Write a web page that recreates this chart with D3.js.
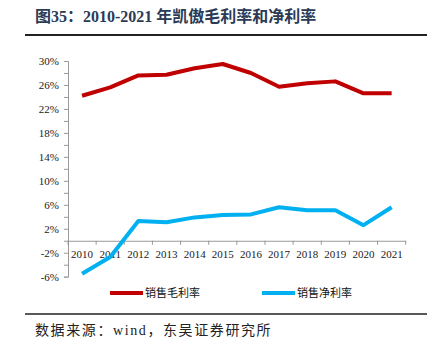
<!DOCTYPE html>
<html><head><meta charset="utf-8">
<script src="https://cdn.jsdelivr.net/npm/d3@7"></script>
<style>
html,body{margin:0;padding:0;background:#fff;}
svg{display:block;}
</style></head>
<body>
<svg id="c" width="440" height="355"></svg>
<script>
const years = ["2010","2011","2012","2013","2014","2015","2016","2017","2018","2019","2020","2021"];
const grossMargin = [24.2, 25.6, 27.6, 27.7, 28.8, 29.5, 28.0, 25.7, 26.3, 26.6, 24.6, 24.6];
const netMargin = [-5.5, -2.7, 3.3, 3.1, 3.9, 4.3, 4.4, 5.6, 5.1, 5.1, 2.6, 5.6];
const yTickValues = [-6, -2, 2, 6, 10, 14, 18, 22, 26, 30];
const seriesNames = ["销售毛利率", "销售净利率"];
const titleText = "图35：2010-2021 年凯傲毛利率和净利率";
const sourceText = "数据来源：wind，东吴证券研究所";

(function () {
const svg = d3.select("#c");
const serif = "'Liberation Serif','Times New Roman','Noto Sans CJK SC',serif";
const pLeft = 68, pRight = 405.7, pTop = 61, pBottom = 276.7;

// title
svg.append("text").attr("x", 35).attr("y", 22)
  .attr("font-family", serif).attr("font-weight", "bold").attr("font-size", 16)
  .attr("fill", "#2b3a55").text(titleText);
svg.append("line").attr("x1", 25).attr("x2", 427).attr("y1", 35).attr("y2", 35)
  .attr("stroke", "#222").attr("stroke-width", 2);

const x = d3.scaleBand().domain(years).range([pLeft, pRight]);
const y = d3.scaleLinear().domain([-6, 30]).range([pBottom, pTop]);

// y axis
const minorTicks = d3.range(-6, 30.01, 2);
const yAxis = d3.axisLeft(y).tickValues(minorTicks).tickSize(4)
  .tickFormat(d => yTickValues.includes(d) ? d + "%" : "");
const gy = svg.append("g").attr("transform", `translate(${pLeft},0)`).call(yAxis);
gy.select(".domain").attr("stroke", "#999");
gy.selectAll(".tick line").attr("stroke", "#999");
gy.selectAll(".tick text").attr("font-family", serif).attr("font-size", 11)
  .attr("fill", "#222").attr("x", -9);

// x axis at zero
const gx = svg.append("g").attr("transform", `translate(0,${y(0)})`)
  .call(d3.axisBottom(x).tickSize(0).tickPadding(9));
gx.select(".domain").attr("stroke", "#999");
gx.selectAll(".tick text").attr("font-family", serif).attr("font-size", 11).attr("fill", "#222");
const boundaries = years.map(d => x(d)).concat([x(years[years.length-1]) + x.bandwidth()]);
gx.selectAll(".bnd").data(boundaries).enter().append("line")
  .attr("x1", d => d).attr("x2", d => d).attr("y1", 0).attr("y2", 4)
  .attr("stroke", "#999");

const line = d3.line().x((d, i) => x(years[i]) + x.bandwidth() / 2).y(d => y(d));
const colors = ["#c00000", "#00b0f0"];
[grossMargin, netMargin].forEach((s, k) => {
  svg.append("path").datum(s).attr("d", line).attr("fill", "none")
    .attr("stroke", colors[k]).attr("stroke-width", 4).attr("stroke-linejoin", "round");
});

// legend
const legX = [110, 262];
seriesNames.forEach((n, k) => {
  svg.append("line").attr("x1", legX[k]).attr("x2", legX[k] + 33).attr("y1", 293).attr("y2", 293)
    .attr("stroke", colors[k]).attr("stroke-width", 4);
  svg.append("text").attr("x", legX[k] + 35).attr("y", 297)
    .attr("font-family", "'Noto Sans CJK SC',sans-serif").attr("font-size", 11)
    .attr("fill", "#111").text(n);
});

svg.append("line").attr("x1", 25).attr("x2", 427).attr("y1", 314).attr("y2", 314)
  .attr("stroke", "#222").attr("stroke-width", 1.5);
svg.append("text").attr("x", 35).attr("y", 335)
  .attr("font-family", serif).attr("font-size", 14).attr("letter-spacing", 1.6)
  .attr("fill", "#222").text(sourceText);
})();
</script>
</body></html>
